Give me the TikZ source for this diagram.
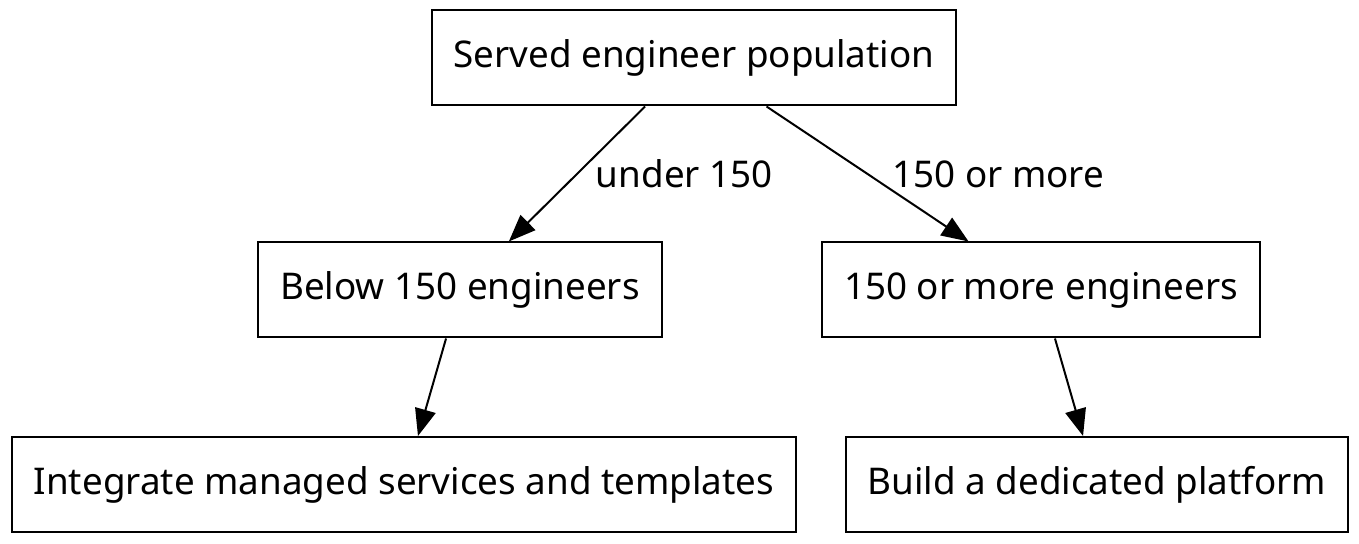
\documentclass[tikz,border=0pt]{standalone}
\usepackage{fontspec}
\setmainfont{Noto Sans}
\usetikzlibrary{arrows.meta}

\tikzset{
  box/.style={draw, line width=1pt, minimum height=47.5pt, inner xsep=11pt, font=\fontsize{18.4}{22}\selectfont},
  link/.style={line width=1pt, -{Triangle[length=13.5pt,width=10.5pt]}},
  linklabel/.style={anchor=west, inner sep=0pt, font=\fontsize{18.4}{22}\selectfont}
}

\begin{document}
\begin{tikzpicture}[x=0.5pt,y=-0.5pt]
  \useasboundingbox (0,0) rectangle (1359,544);

  % decision tree
  \node[box] (population) at (694,58) {Served engineer population};
  \node[box] (small) at (460,290) {Below 150 engineers};
  \node[box] (large) at (1041,290) {150 or more engineers};
  \node[box] (integrate) at (404,484.5) {Integrate managed services and templates};
  \node[box] (build) at (1097,484.5) {Build a dedicated platform};

  % branches
  \draw[link] (population) -- node[linklabel, xshift=9pt] {under 150} (small);
  \draw[link] (population) -- node[linklabel, xshift=12pt] {150 or more} (large);
  \draw[link] (small) -- (integrate);
  \draw[link] (large) -- (build);
\end{tikzpicture}
\end{document}
